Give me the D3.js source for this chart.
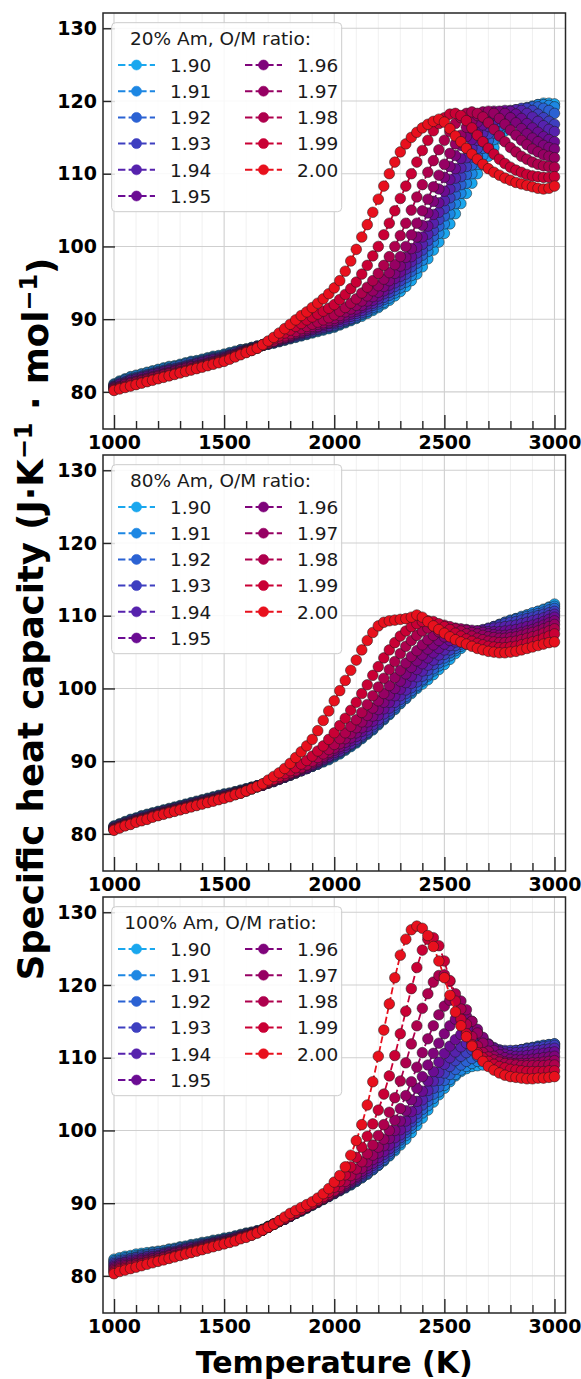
<!DOCTYPE html>
<html>
<head>
<meta charset="utf-8">
<script src="https://cdn.jsdelivr.net/npm/d3@7"></script>
<style>
  body { margin: 0; background: #fff; }
  text { font-family: "DejaVu Sans", sans-serif; }
</style>
</head>
<body>
<svg id="chart" width="581" height="1379"></svg>
<script>
// ---- data ----
var temperatures = [1000, 1025, 1050, 1075, 1100, 1125, 1150, 1175, 1200, 1225, 1250, 1275,
  1300, 1325, 1350, 1375, 1400, 1425, 1450, 1475, 1500, 1525, 1550, 1575, 1600, 1625, 1650, 1675,
  1700, 1725, 1750, 1775, 1800, 1825, 1850, 1875, 1900, 1925, 1950, 1975, 2000, 2025, 2050, 2075,
  2100, 2125, 2150, 2175, 2200, 2225, 2250, 2275, 2300, 2325, 2350, 2375, 2400, 2425, 2450, 2475,
  2500, 2525, 2550, 2575, 2600, 2625, 2650, 2675, 2700, 2725, 2750, 2775, 2800, 2825, 2850, 2875,
  2900, 2925, 2950, 2975, 3000];

var omRatios = ["1.90", "1.91", "1.92", "1.93", "1.94", "1.95", "1.96", "1.97", "1.98", "1.99", "2.00"];
var panelTitles = ["20% Am, O/M ratio:", "80% Am, O/M ratio:", "100% Am, O/M ratio:"];
var xTicks = [1000, 1500, 2000, 2500, 3000];
var yTicks = [80, 90, 100, 110, 120, 130];

// 20% Am, one row per O/M ratio (1.90 ... 2.00)
var cpAm20 = [
  [81.1,81.5,81.8,82.1, 82.3,82.5,82.7,82.9, 83.1,83.3,83.5,83.6, 83.8,84.0,84.2,84.3, 84.5,84.7,84.9,85.0, 85.2,85.4,85.6,85.8, 85.9,86.1,86.3,86.4, 86.6,86.7,86.9,87.1, 87.3,87.5,87.7,87.9, 88.1,88.3,88.5,88.7, 88.9,89.2,89.5,89.8, 90.1,90.4,90.8,91.2, 91.6,92.1,92.6,93.2, 93.8,94.5,95.3,96.2, 97.2,98.3,99.5,100.6, 101.8,103.1,104.5,105.9, 107.3,108.7,110.0,111.2, 112.4,113.6,114.8,115.9, 116.8,117.6,118.3,118.8, 119.2,119.5,119.7,119.7, 119.6],
  [81.0,81.4,81.7,82.0, 82.2,82.4,82.6,82.8, 83.0,83.2,83.4,83.5, 83.7,83.9,84.1,84.2, 84.4,84.6,84.8,84.9, 85.1,85.3,85.5,85.8, 85.9,86.1,86.3,86.5, 86.6,86.8,87.0,87.2, 87.4,87.6,87.8,88.0, 88.2,88.4,88.6,88.8, 89.0,89.3,89.6,89.9, 90.2,90.6,91.0,91.4, 91.8,92.3,92.9,93.6, 94.3,95.1,96.0,97.0, 98.1,99.3,100.6,101.8, 103.1,104.5,105.9,107.3, 108.7,110.0,111.3,112.5, 113.6,114.7,115.7,116.6, 117.4,118.1,118.6,119.0, 119.3,119.5,119.5,119.4, 119.2],
  [80.9,81.3,81.6,81.8, 82.0,82.2,82.4,82.6, 82.8,83.0,83.2,83.4, 83.6,83.8,84.0,84.1, 84.3,84.5,84.7,84.8, 85.0,85.2,85.4,85.7, 85.8,86.0,86.2,86.4, 86.6,86.8,87.0,87.2, 87.4,87.6,87.8,88.0, 88.3,88.5,88.7,88.9, 89.1,89.4,89.7,90.0, 90.3,90.7,91.1,91.6, 92.1,92.7,93.3,94.0, 94.8,95.7,96.6,97.7, 98.8,100.1,101.4,102.8, 104.2,105.7,107.1,108.5, 109.9,111.2,112.4,113.5, 114.6,115.6,116.5,117.3, 117.9,118.5,118.9,119.1, 119.2,119.2,119.0,118.7, 118.3],
  [80.8,81.2,81.4,81.7, 81.9,82.1,82.3,82.5, 82.7,82.9,83.1,83.2, 83.4,83.6,83.8,84.0, 84.2,84.4,84.6,84.7, 84.9,85.1,85.4,85.6, 85.8,86.0,86.2,86.4, 86.6,86.8,87.0,87.2, 87.5,87.7,87.9,88.1, 88.3,88.6,88.8,89.0, 89.2,89.5,89.8,90.1, 90.5,90.9,91.4,91.9, 92.4,93.0,93.7,94.5, 95.3,96.2,97.2,98.3, 99.5,100.8,102.2,103.7, 105.2,106.7,108.2,109.6, 111.0,112.3,113.5,114.5, 115.5,116.4,117.2,117.9, 118.4,118.8,119.0,119.0, 118.7,118.2,117.7,117.2, 116.8],
  [80.7,81.1,81.3,81.6, 81.8,82.0,82.2,82.4, 82.6,82.8,83.0,83.1, 83.3,83.5,83.7,83.9, 84.1,84.3,84.5,84.6, 84.8,85.0,85.2,85.5, 85.7,85.9,86.2,86.4, 86.6,86.8,87.1,87.3, 87.5,87.8,88.0,88.2, 88.5,88.7,88.9,89.1, 89.4,89.7,90.0,90.4, 90.8,91.2,91.7,92.2, 92.8,93.5,94.2,95.0, 95.9,96.9,97.9,99.1, 100.3,101.7,103.2,104.7, 106.3,107.9,109.4,110.8, 112.2,113.5,114.6,115.6, 116.5,117.3,117.9,118.4, 118.7,118.8,118.7,118.3, 117.8,117.2,116.6,116.1, 115.8],
  [80.7,81.0,81.2,81.5, 81.7,81.9,82.1,82.3, 82.5,82.7,82.9,83.0, 83.2,83.4,83.6,83.8, 84.0,84.2,84.4,84.5, 84.7,85.0,85.2,85.5, 85.7,85.9,86.2,86.4, 86.7,86.9,87.1,87.4, 87.6,87.9,88.1,88.4, 88.6,88.9,89.1,89.4, 89.6,90.0,90.3,90.7, 91.1,91.6,92.1,92.6, 93.2,93.9,94.7,95.6, 96.5,97.5,98.6,99.9, 101.3,102.8,104.4,106.0, 107.6,109.2,110.7,112.1, 113.5,114.7,115.8,116.7, 117.5,118.1,118.5,118.7, 118.6,118.2,117.6,116.9, 116.3,115.7,115.1,114.7, 114.4],
  [80.6,80.8,81.1,81.3, 81.5,81.7,81.9,82.1, 82.3,82.5,82.7,82.9, 83.1,83.3,83.5,83.6, 83.8,84.0,84.2,84.4, 84.6,84.9,85.1,85.4, 85.6,85.9,86.1,86.4, 86.7,86.9,87.2,87.4, 87.7,88.0,88.2,88.5, 88.8,89.0,89.3,89.5, 89.8,90.2,90.6,91.0, 91.4,91.9,92.5,93.1, 93.7,94.5,95.3,96.3, 97.3,98.5,99.7,101.3, 102.9,104.6,106.2,107.9, 109.5,111.0,112.5,113.9, 115.1,116.2,117.1,117.8, 118.3,118.6,118.6,118.3, 117.7,117.0,116.2,115.5, 114.9,114.4,113.9,113.6, 113.4],
  [80.5,80.7,81.0,81.2, 81.4,81.6,81.8,82.0, 82.2,82.4,82.6,82.8, 83.0,83.2,83.4,83.5, 83.7,83.9,84.1,84.3, 84.5,84.8,85.0,85.3, 85.6,85.8,86.1,86.4, 86.7,87.0,87.3,87.5, 87.8,88.1,88.4,88.7, 89.0,89.3,89.5,89.8, 90.1,90.5,91.0,91.4, 91.9,92.5,93.2,93.9, 94.6,95.5,96.4,97.5, 98.6,100.0,101.6,103.2, 104.9,106.5,108.2,109.8, 111.3,112.8,114.1,115.3, 116.4,117.3,118.0,118.5, 118.6,118.3,117.6,116.8, 116.0,115.3,114.6,114.0, 113.4,113.0,112.6,112.4, 112.2],
  [80.4,80.6,80.8,81.1, 81.3,81.5,81.7,81.9, 82.1,82.3,82.5,82.6, 82.8,83.0,83.2,83.4, 83.6,83.8,84.0,84.2, 84.4,84.7,85.0,85.2, 85.5,85.8,86.1,86.4, 86.7,87.0,87.4,87.7, 88.0,88.3,88.7,89.0, 89.3,89.6,89.9,90.2, 90.6,91.1,91.6,92.2, 92.8,93.6,94.4,95.3, 96.3,97.4,98.6,100.0, 101.5,103.2,105.0,106.8, 108.5,110.2,111.8,113.3, 114.6,115.8,116.9,117.7, 118.3,118.5,118.3,117.8, 117.0,116.1,115.2,114.4, 113.6,113.0,112.4,112.0, 111.6,111.3,111.1,111.0, 110.9],
  [80.3,80.5,80.7,80.9, 81.1,81.3,81.5,81.7, 81.9,82.1,82.3,82.5, 82.7,82.9,83.1,83.3, 83.5,83.7,83.9,84.1, 84.3,84.6,84.9,85.2, 85.5,85.7,86.0,86.5, 86.9,87.3,87.7,88.1, 88.5,89.0,89.4,89.9, 90.3,90.7,91.1,91.5, 92.0,92.7,93.4,94.2, 95.1,96.2,97.4,98.7, 100.0,101.6,103.2,104.9, 106.6,108.3,110.0,111.6, 113.2,114.6,115.9,116.9, 117.7,118.2,118.3,118.0, 117.3,116.3,115.3,114.4, 113.5,112.7,112.0,111.4, 110.9,110.5,110.2,109.9, 109.7,109.6,109.5,109.5, 109.6],
  [80.2,80.4,80.6,80.8, 81.0,81.2,81.4,81.6, 81.8,82.0,82.2,82.4, 82.6,82.8,83.0,83.2, 83.4,83.6,83.8,84.0, 84.2,84.5,84.8,85.1, 85.4,85.7,86.0,86.5, 87.0,87.5,88.1,88.7, 89.3,89.9,90.5,91.0, 91.6,92.2,92.8,93.5, 94.3,95.3,96.6,98.0, 99.6,101.3,103.0,104.7, 106.5,108.3,110.0,111.6, 113.0,114.1,115.0,115.7, 116.3,116.8,117.2,117.5, 117.1,116.2,115.2,114.4, 113.5,112.7,112.0,111.3, 110.7,110.2,109.8,109.4, 109.1,108.8,108.6,108.4, 108.2,108.0,107.9,108.0, 108.3]
];

// 80% Am
var cpAm80 = [
  [81.1,81.4,81.7,82.0, 82.2,82.5,82.7,82.9, 83.1,83.3,83.5,83.7, 83.9,84.1,84.3,84.5, 84.7,84.9,85.1,85.3, 85.5,85.6,85.8,86.0, 86.2,86.4,86.6,86.8, 87.1,87.3,87.6,87.8, 88.1,88.4,88.7,89.0, 89.3,89.6,89.9,90.2, 90.6,91.0,91.5,92.0, 92.5,93.1,93.7,94.3, 95.0,95.7,96.4,97.1, 97.9,98.6,99.3,100.0, 100.6,101.2,101.9,102.6, 103.3,104.0,104.8,105.5, 106.1,106.7,107.2,107.6, 108.0,108.4,108.7,109.0, 109.3,109.6,109.8,110.1, 110.3,110.6,110.9,111.2, 111.6],
  [81.0,81.3,81.6,81.9, 82.1,82.4,82.6,82.8, 83.0,83.2,83.4,83.6, 83.8,84.0,84.2,84.4, 84.6,84.8,85.0,85.2, 85.4,85.6,85.8,86.0, 86.2,86.4,86.6,86.8, 87.1,87.3,87.6,87.8, 88.1,88.4,88.7,89.0, 89.3,89.6,90.0,90.3, 90.7,91.1,91.6,92.1, 92.6,93.2,93.8,94.4, 95.1,95.8,96.5,97.2, 98.0,98.7,99.5,100.2, 101.0,101.7,102.4,103.1, 103.8,104.5,105.2,105.8, 106.4,106.9,107.4,107.8, 108.2,108.5,108.8,109.1, 109.4,109.6,109.9,110.1, 110.4,110.6,110.8,111.1, 111.3],
  [81.0,81.3,81.6,81.9, 82.1,82.4,82.6,82.8, 83.0,83.2,83.4,83.6, 83.8,84.0,84.2,84.4, 84.6,84.8,85.0,85.2, 85.4,85.5,85.7,85.9, 86.1,86.4,86.6,86.8, 87.1,87.3,87.6,87.8, 88.1,88.4,88.7,89.0, 89.3,89.6,90.0,90.4, 90.8,91.2,91.7,92.2, 92.7,93.3,93.9,94.5, 95.2,95.9,96.6,97.4, 98.2,98.9,99.7,100.4, 101.2,101.9,102.7,103.5, 104.2,104.9,105.5,106.1, 106.6,107.1,107.5,107.9, 108.2,108.5,108.8,109.1, 109.3,109.5,109.7,109.9, 110.1,110.3,110.5,110.8, 111.0],
  [80.9,81.2,81.5,81.8, 82.0,82.3,82.5,82.7, 82.9,83.1,83.3,83.5, 83.7,83.9,84.1,84.3, 84.5,84.7,84.9,85.1, 85.3,85.5,85.7,85.9, 86.1,86.3,86.6,86.7, 87.0,87.2,87.5,87.8, 88.1,88.4,88.7,89.0, 89.4,89.7,90.1,90.5, 90.9,91.3,91.8,92.3, 92.8,93.4,94.0,94.7, 95.4,96.1,96.9,97.7, 98.5,99.3,100.1,100.9, 101.7,102.5,103.3,104.0, 104.7,105.3,105.9,106.4, 106.9,107.3,107.7,108.0, 108.3,108.5,108.7,108.9, 109.1,109.2,109.4,109.6, 109.8,110.0,110.2,110.4, 110.6],
  [80.9,81.2,81.5,81.7, 82.0,82.2,82.4,82.7, 82.9,83.1,83.3,83.5, 83.7,83.9,84.1,84.3, 84.5,84.7,84.9,85.1, 85.3,85.4,85.6,85.8, 86.1,86.3,86.5,86.7, 87.0,87.2,87.5,87.8, 88.1,88.4,88.7,89.0, 89.4,89.8,90.2,90.6, 91.0,91.4,91.9,92.4, 93.0,93.6,94.3,95.0, 95.7,96.5,97.3,98.1, 99.0,99.8,100.7,101.6, 102.4,103.2,103.9,104.6, 105.3,105.9,106.4,106.9, 107.3,107.6,107.9,108.1, 108.2,108.3,108.4,108.5, 108.6,108.7,108.9,109.1, 109.3,109.5,109.7,110.0, 110.2],
  [80.8,81.1,81.4,81.6, 81.9,82.1,82.3,82.6, 82.8,83.0,83.2,83.4, 83.6,83.8,84.0,84.2, 84.4,84.6,84.8,85.0, 85.2,85.3,85.6,85.8, 86.0,86.3,86.5,86.7, 87.0,87.3,87.6,87.9, 88.2,88.5,88.8,89.1, 89.5,89.9,90.3,90.7, 91.2,91.7,92.2,92.8, 93.4,94.1,94.8,95.5, 96.3,97.2,98.1,99.0, 99.9,100.8,101.7,102.6, 103.4,104.2,104.9,105.5, 106.1,106.6,107.1,107.4, 107.7,107.8,107.9,107.9, 107.8,107.8,107.8,107.9, 108.0,108.1,108.3,108.5, 108.7,108.9,109.2,109.5, 109.8],
  [80.7,81.0,81.3,81.6, 81.8,82.1,82.2,82.5, 82.7,82.9,83.1,83.3, 83.5,83.7,83.9,84.1, 84.3,84.5,84.7,84.9, 85.1,85.3,85.6,85.8, 86.0,86.3,86.5,86.7, 87.0,87.3,87.6,87.9, 88.2,88.5,88.9,89.2, 89.6,90.0,90.5,91.0, 91.5,92.0,92.6,93.2, 93.9,94.6,95.4,96.2, 97.1,98.1,99.1,100.0, 101.0,102.0,102.9,103.8, 104.6,105.4,106.0,106.6, 107.1,107.5,107.8,108.0, 108.1,108.0,107.9,107.7, 107.5,107.4,107.3,107.3, 107.4,107.5,107.7,107.9, 108.1,108.4,108.7,109.0, 109.3],
  [80.7,81.0,81.3,81.5, 81.8,82.0,82.2,82.5, 82.7,82.9,83.1,83.3, 83.5,83.7,83.9,84.1, 84.3,84.5,84.7,84.9, 85.1,85.3,85.5,85.7, 86.0,86.2,86.5,86.8, 87.1,87.4,87.7,88.0, 88.3,88.6,89.0,89.4, 89.8,90.2,90.7,91.2, 91.8,92.4,93.1,93.8, 94.6,95.4,96.3,97.3, 98.3,99.3,100.4,101.5, 102.5,103.5,104.4,105.2, 106.0,106.7,107.3,107.8, 108.1,108.3,108.3,108.2, 108.0,107.7,107.5,107.3, 107.1,107.0,106.9,106.9, 107.0,107.1,107.3,107.5, 107.7,107.9,108.2,108.5, 108.8],
  [80.6,80.9,81.2,81.4, 81.7,81.9,82.1,82.4, 82.6,82.8,83.0,83.2, 83.4,83.6,83.8,84.0, 84.2,84.4,84.6,84.8, 85.0,85.2,85.5,85.7, 85.9,86.2,86.5,86.8, 87.1,87.4,87.7,88.0, 88.4,88.7,89.1,89.5, 90.0,90.5,91.0,91.6, 92.3,93.1,93.9,94.8, 95.7,96.7,97.8,99.0, 100.2,101.4,102.6,103.7, 104.8,105.8,106.6,107.3, 107.9,108.3,108.6,108.8, 108.7,108.5,108.2,107.9, 107.5,107.2,106.9,106.7, 106.5,106.4,106.3,106.3, 106.4,106.5,106.7,106.9, 107.1,107.3,107.6,107.9, 108.2],
  [80.6,80.9,81.2,81.4, 81.7,81.9,82.1,82.4, 82.6,82.8,83.0,83.2, 83.4,83.6,83.8,84.0, 84.2,84.4,84.6,84.8, 85.0,85.2,85.4,85.6, 85.9,86.2,86.5,86.8, 87.2,87.5,87.9,88.3, 88.7,89.1,89.6,90.1, 90.7,91.4,92.1,93.0, 93.9,94.9,95.9,97.0, 98.1,99.3,100.5,101.8, 103.0,104.2,105.3,106.3, 107.2,107.9,108.5,108.9, 109.2,109.3,109.2,108.9, 108.5,108.1,107.6,107.2, 106.8,106.5,106.2,106.0, 105.8,105.7,105.6,105.6, 105.7,105.8,106.0,106.2, 106.4,106.6,106.9,107.2, 107.5],
  [80.5,80.8,81.1,81.3, 81.6,81.8,82.0,82.3, 82.5,82.7,82.9,83.1, 83.3,83.5,83.7,83.9, 84.1,84.3,84.5,84.7, 84.9,85.1,85.4,85.6, 85.9,86.2,86.5,86.9, 87.4,87.9,88.4,89.0, 89.7,90.5,91.3,92.1, 93.0,94.2,95.6,96.9, 98.3,99.7,101.1,102.5, 103.9,105.3,106.6,107.7, 108.6,109.1,109.3,109.4, 109.5,109.6,109.8,110.1, 109.8,109.2,108.6,108.1, 107.6,107.1,106.7,106.4, 106.1,105.8,105.5,105.3, 105.1,105.0,104.9,104.9, 105.0,105.1,105.3,105.5, 105.7,105.9,106.1,106.3, 106.4]
];

// 100% Am
var cpAm100 = [
  [82.3,82.5,82.7,82.8, 83.0,83.1,83.2,83.3, 83.4,83.5,83.7,83.8, 84.0,84.1,84.3,84.4, 84.6,84.7,84.9,85.0, 85.2,85.3,85.5,85.7, 85.9,86.0,86.2,86.4, 86.8,87.1,87.5,87.9, 88.2,88.6,88.9,89.3, 89.7,90.1,90.5,90.9, 91.3,91.7,92.1,92.5, 93.0,93.5,94.0,94.6, 95.2,95.8,96.5,97.2, 98.0,98.8,99.7,100.7, 101.7,102.8,103.9,104.9, 105.8,106.7,107.5,108.1, 108.5,108.8,108.9,109.0, 109.1,109.3,109.5,109.8, 110.0,110.2,110.4,110.6, 110.8,111.0,111.2,111.4, 111.5],
  [82.1,82.3,82.5,82.6, 82.8,82.9,83.0,83.2, 83.3,83.4,83.6,83.7, 83.9,84.0,84.2,84.3, 84.5,84.6,84.8,84.9, 85.1,85.2,85.4,85.6, 85.8,86.0,86.2,86.4, 86.8,87.1,87.5,87.9, 88.2,88.6,89.0,89.4, 89.8,90.2,90.6,91.0, 91.4,91.8,92.2,92.6, 93.0,93.5,94.0,94.6, 95.2,95.9,96.6,97.4, 98.3,99.3,100.3,101.3, 102.4,103.4,104.4,105.3, 106.2,107.0,107.7,108.3, 108.8,109.2,109.5,109.7, 109.9,110.1,110.3,110.5, 110.7,110.9,111.1,111.3, 111.4,111.6,111.7,111.8, 111.9],
  [81.9,82.1,82.3,82.4, 82.6,82.8,82.9,83.0, 83.1,83.2,83.4,83.6, 83.8,83.9,84.1,84.2, 84.4,84.5,84.7,84.8, 85.0,85.2,85.4,85.6, 85.8,85.9,86.1,86.3, 86.7,87.1,87.5,87.8, 88.2,88.6,89.0,89.4, 89.8,90.2,90.6,91.0, 91.4,91.8,92.2,92.6, 93.1,93.6,94.1,94.7, 95.3,96.0,96.8,97.7, 98.7,99.7,100.7,101.8, 102.9,104.0,105.0,106.0, 106.9,107.7,108.4,109.0, 109.5,109.9,110.2,110.4, 110.5,110.6,110.7,110.8, 110.9,111.0,111.1,111.3, 111.4,111.5,111.7,111.8, 111.9],
  [81.7,81.9,82.1,82.3, 82.5,82.6,82.7,82.9, 83.0,83.1,83.3,83.4, 83.6,83.8,84.0,84.1, 84.3,84.4,84.6,84.8, 85.0,85.1,85.3,85.5, 85.7,85.9,86.1,86.3, 86.7,87.1,87.5,87.8, 88.2,88.6,89.0,89.4, 89.8,90.2,90.6,91.0, 91.4,91.8,92.2,92.7, 93.2,93.7,94.3,94.9, 95.6,96.3,97.1,98.0, 99.0,100.1,101.2,102.3, 103.5,104.7,105.8,106.9, 107.9,108.8,109.6,110.2, 110.7,111.1,111.3,111.4, 111.3,111.2,111.1,111.0, 111.0,111.0,111.1,111.2, 111.3,111.4,111.5,111.6, 111.7],
  [81.5,81.7,81.9,82.1, 82.3,82.4,82.6,82.7, 82.8,83.0,83.2,83.3, 83.5,83.7,83.9,84.0, 84.2,84.3,84.5,84.7, 84.9,85.0,85.2,85.5, 85.7,85.8,86.1,86.3, 86.7,87.1,87.5,87.8, 88.2,88.6,89.0,89.4, 89.8,90.2,90.6,91.0, 91.4,91.8,92.3,92.8, 93.3,93.9,94.5,95.2, 95.9,96.7,97.5,98.4, 99.4,100.5,101.7,102.9, 104.2,105.5,106.8,108.0, 109.1,110.0,110.8,111.5, 112.0,112.3,112.4,112.2, 111.8,111.4,111.0,110.8, 110.7,110.7,110.7,110.8, 110.9,111.0,111.1,111.2, 111.3],
  [81.3,81.6,81.8,81.9, 82.1,82.3,82.4,82.6, 82.7,82.9,83.1,83.2, 83.4,83.6,83.8,83.9, 84.1,84.3,84.5,84.6, 84.8,85.0,85.2,85.4, 85.6,85.8,86.1,86.3, 86.7,87.1,87.5,87.8, 88.2,88.6,89.0,89.4, 89.8,90.2,90.6,91.0, 91.4,91.9,92.4,92.9, 93.5,94.1,94.8,95.5, 96.3,97.1,98.0,99.0, 100.1,101.3,102.6,104.0, 105.4,106.8,108.1,109.4, 110.6,111.6,112.5,113.2, 113.7,113.8,113.4,112.7, 111.9,111.3,110.8,110.5, 110.3,110.2,110.2,110.3, 110.4,110.5,110.6,110.7, 110.8],
  [81.1,81.4,81.6,81.7, 81.9,82.1,82.2,82.4, 82.6,82.7,82.9,83.1, 83.3,83.4,83.6,83.8, 84.0,84.2,84.4,84.5, 84.7,84.9,85.1,85.3, 85.5,85.8,86.0,86.3, 86.7,87.1,87.5,87.9, 88.3,88.7,89.0,89.4, 89.8,90.2,90.6,91.0, 91.5,92.0,92.5,93.1, 93.7,94.4,95.2,96.0, 96.9,97.9,98.9,100.0, 101.3,102.7,104.2,105.8, 107.4,109.0,110.6,112.0, 113.3,114.4,115.3,115.8, 115.7,115.0,113.9,112.8, 111.8,111.0,110.4,110.0, 109.8,109.7,109.7,109.7, 109.8,109.9,110.0,110.1, 110.2],
  [80.9,81.2,81.4,81.5, 81.7,81.9,82.1,82.3, 82.4,82.6,82.8,83.0, 83.2,83.3,83.5,83.7, 83.9,84.1,84.3,84.4, 84.6,84.8,85.0,85.3, 85.5,85.7,86.0,86.3, 86.7,87.1,87.5,87.9, 88.3,88.7,89.1,89.5, 89.9,90.3,90.7,91.1, 91.6,92.1,92.7,93.3, 94.0,94.8,95.7,96.6, 97.7,98.8,100.0,101.4, 103.0,104.8,106.7,108.7, 110.7,112.6,114.4,115.9, 117.1,117.9,118.2,117.8, 116.6,115.0,113.4,112.0, 110.9,110.2,109.7,109.4, 109.3,109.2,109.2,109.2, 109.3,109.3,109.4,109.5, 109.6],
  [80.7,81.0,81.2,81.4, 81.6,81.7,81.9,82.1, 82.3,82.5,82.7,82.8, 83.0,83.2,83.4,83.6, 83.8,84.0,84.2,84.4, 84.6,84.7,84.9,85.2, 85.4,85.7,86.0,86.3, 86.7,87.1,87.5,87.9, 88.3,88.7,89.1,89.5, 89.9,90.3,90.7,91.2, 91.7,92.3,93.0,93.8, 94.7,95.7,96.8,98.0, 99.3,100.8,102.5,104.5, 106.8,109.3,111.9,114.4, 116.8,118.8,120.4,121.3, 121.4,120.5,118.8,116.7, 114.6,112.9,111.6,110.7, 110.1,109.7,109.4,109.2, 109.1,109.0,108.9,108.9, 108.9,108.9,108.9,109.0, 109.0],
  [80.5,80.8,81.0,81.2, 81.4,81.6,81.8,82.0, 82.1,82.3,82.5,82.7, 82.9,83.1,83.3,83.5, 83.7,83.9,84.1,84.3, 84.5,84.7,84.9,85.2, 85.4,85.6,85.9,86.3, 86.7,87.1,87.5,87.9, 88.3,88.7,89.1,89.5, 89.9,90.4,90.9,91.5, 92.2,93.0,93.9,95.0, 96.3,97.7,99.2,100.9, 102.8,105.0,107.5,110.3, 113.3,116.4,119.5,122.4, 124.8,126.3,126.5,125.4, 123.3,120.6,117.8,115.3, 113.3,111.8,110.7,110.0, 109.5,109.1,108.8,108.6, 108.4,108.3,108.2,108.1, 108.1,108.1,108.1,108.2, 108.2],
  [80.3,80.6,80.8,81.0, 81.2,81.4,81.6,81.8, 82.0,82.2,82.4,82.6, 82.8,83.0,83.2,83.4, 83.6,83.8,84.0,84.2, 84.4,84.6,84.8,85.1, 85.3,85.6,85.9,86.3, 86.7,87.1,87.6,88.1, 88.6,89.0,89.4,89.8, 90.2,90.7,91.3,92.0, 92.9,93.8,95.0,96.6, 98.6,100.8,103.5,106.7, 110.2,113.8,117.4,121.0, 124.1,126.3,127.6,128.1, 127.8,126.8,125.3,123.3, 121.0,118.6,116.3,114.4, 112.9,111.6,110.4,109.5, 108.8,108.3,107.9,107.6, 107.4,107.3,107.2,107.1, 107.1,107.2,107.2,107.3, 107.4]
];

// ---- styling ----
var omColors = ["#1aa7ee", "#1d87e3", "#2b62d3", "#3e3fc0", "#5622ad", "#6b0c93", "#7f047b", "#960063", "#ae004d", "#c90035", "#e8101d"];

var width = 581, height = 1379;
var frameL = 103, frameR = 565.5, panelH = 416;
var panelTops = [13, 455, 897];
var panelData = [cpAm20, cpAm80, cpAm100];

var svg = d3.select("#chart");
svg.append("rect").attr("width", width).attr("height", height).attr("fill", "#fff");

var x = d3.scaleLinear().domain([950, 3050]).range([frameL, frameR]);

function drawPanel(idx) {
    var top = panelTops[idx];
    var series = panelData[idx];
    var bottom = top + panelH;
    var y = d3.scaleLinear().domain([74.9, 132.1]).range([bottom, top]);
    var g = svg.append("g").attr("class", "panel");

    var clipId = "clip" + idx;
    svg.append("clipPath").attr("id", clipId)
        .append("rect").attr("x", frameL).attr("y", top)
        .attr("width", frameR - frameL).attr("height", panelH);

    // grid
    var minorT = d3.range(1000, 3001, 100).filter(function(t) { return t % 500 != 0; });
    g.selectAll("line.gmin").data(minorT).enter().append("line")
        .attr("x1", function(d) { return x(d); }).attr("x2", function(d) { return x(d); })
        .attr("y1", top).attr("y2", bottom)
        .style("stroke", "#ececec").style("stroke-width", 0.8);
    g.selectAll("line.gmaj").data(xTicks).enter().append("line")
        .attr("x1", function(d) { return x(d); }).attr("x2", function(d) { return x(d); })
        .attr("y1", top).attr("y2", bottom)
        .style("stroke", "#cfcfcf").style("stroke-width", 1.1);
    g.selectAll("line.gy").data(yTicks).enter().append("line")
        .attr("x1", frameL).attr("x2", frameR)
        .attr("y1", function(d) { return y(d); }).attr("y2", function(d) { return y(d); })
        .style("stroke", "#cfcfcf").style("stroke-width", 1.1);

    // axes (ticks pointing inward)
    var xMinor = g.append("g").attr("transform", "translate(0," + bottom + ")")
        .call(d3.axisBottom(x).tickValues(minorT).tickSize(-8).tickFormat(""));
    var xAxis = g.append("g").attr("transform", "translate(0," + bottom + ")")
        .call(d3.axisBottom(x).tickValues(xTicks).tickSize(-14).tickPadding(7).tickFormat(d3.format("d")));
    var yAxis = g.append("g").attr("transform", "translate(" + frameL + ",0)")
        .call(d3.axisLeft(y).tickValues(yTicks).tickSize(-12).tickPadding(6));
    [xMinor, xAxis, yAxis].forEach(function(a) {
        a.select(".domain").remove();
        a.selectAll(".tick line").style("stroke", "#262626").style("stroke-width", 1.4);
        a.selectAll("text").style("font-family", "DejaVu Sans").style("font-weight", "bold")
            .style("font-size", "19px").style("fill", "#000");
    });

    // data series, 1.90 first so 2.00 sits on top
    var plot = g.append("g").attr("clip-path", "url(#" + clipId + ")");
    var line = d3.line()
        .x(function(d, k) { return x(temperatures[k]); })
        .y(function(d) { return y(d); });
    series.forEach(function(vals, i) {
        if (vals.length != temperatures.length) console.log("length mismatch", idx, i, vals.length);
        var s = plot.append("g");
        s.append("path").attr("d", line(vals))
            .style("fill", "none").style("stroke", omColors[i])
            .style("stroke-width", 1.8).style("stroke-dasharray", "7,3");
        s.selectAll("circle").data(vals).enter().append("circle")
            .attr("cx", function(d, k) { return x(temperatures[k]); })
            .attr("cy", function(d) { return y(d); })
            .attr("r", 5.3)
            .style("fill", omColors[i])
            .style("stroke", "#1a1a1a").style("stroke-width", 0.6).style("stroke-opacity", 0.85);
    });

    // frame
    g.append("rect").attr("x", frameL).attr("y", top)
        .attr("width", frameR - frameL).attr("height", panelH)
        .style("fill", "none").style("stroke", "#262626").style("stroke-width", 1.5);

    // legend
    var lx = frameL + 8.7, ly = top + 9.7;
    var lg = g.append("g");
    lg.append("rect").attr("x", lx).attr("y", ly).attr("width", 230).attr("height", 189)
        .attr("rx", 4).style("fill", "#fff").style("fill-opacity", 0.85)
        .style("stroke", "#cccccc").style("stroke-width", 1);
    lg.append("text").attr("x", frameL + 117.5).attr("y", top + 31.5)
        .attr("text-anchor", "middle").style("font-size", "18.5px").style("fill", "#1a1a1a")
        .text(panelTitles[idx]);
    omRatios.forEach(function(r, i) {
        var col = i < 6 ? 0 : 1;
        var row = i < 6 ? i : i - 6;
        var cy = top + 52 + 26.2 * row;
        var hx = frameL + (col == 0 ? 15 : 142);
        lg.append("line").attr("x1", hx).attr("x2", hx + 37).attr("y1", cy).attr("y2", cy)
            .style("stroke", omColors[i]).style("stroke-width", 2).style("stroke-dasharray", "7.4,3.2");
        lg.append("circle").attr("cx", hx + 18.5).attr("cy", cy).attr("r", 5)
            .style("fill", omColors[i]).style("stroke", omColors[i]).style("stroke-width", 0.6);
        lg.append("text").attr("x", hx + 52).attr("y", cy + 6.7)
            .style("font-size", "18.5px").style("fill", "#1a1a1a").text(r);
    });
}

[0, 1, 2].forEach(drawPanel);

// axis titles
svg.append("text").attr("x", (frameL + frameR) / 2).attr("y", 1373)
    .attr("text-anchor", "middle").style("font-size", "30px").style("font-weight", "bold")
    .text("Temperature (K)");

var yl = svg.append("text").attr("transform", "translate(43,619) rotate(-90)")
    .attr("text-anchor", "middle").style("font-size", "35.5px").style("font-weight", "bold");
yl.append("tspan").text("Specific heat capacity (J\u00b7K");
yl.append("tspan").attr("dy", "-0.45em").style("font-size", "24px").text("\u22121");
yl.append("tspan").attr("dy", "0.45em").text(" \u00b7 mol");
yl.append("tspan").attr("dy", "-0.45em").style("font-size", "24px").text("\u22121");
yl.append("tspan").attr("dy", "0.45em").text(")");
</script>
</body>
</html>
